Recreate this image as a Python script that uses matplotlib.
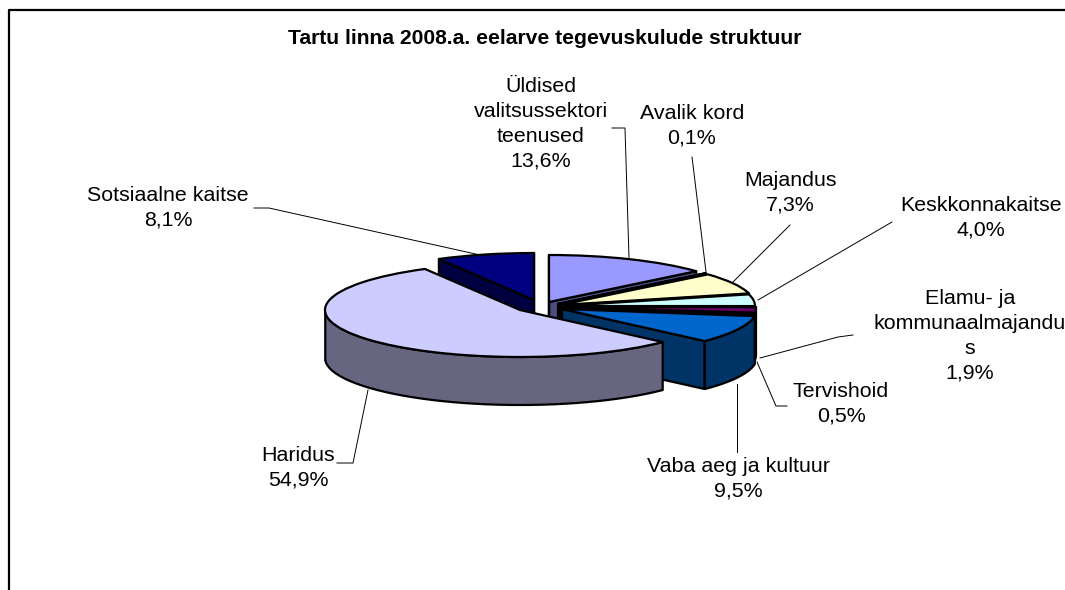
import numpy as np
import matplotlib
matplotlib.use("Agg")
import matplotlib.pyplot as plt

plt.rcParams["font.family"] = ["Liberation Sans", "DejaVu Sans"]

# Data
names = ["Üldised\nvalitsussektori\nteenused", "Avalik kord", "Majandus", "Keskkonnakaitse",
         "Elamu- ja\nkommunaalmajandu\ns", "Tervishoid", "Vaba aeg ja kultuur", "Haridus", "Sotsiaalne kaitse"]
shares = [13.6, 0.1, 7.3, 4.0, 1.9, 0.5, 9.5, 54.9, 8.1]
colors = ["#9999FF", "#993366", "#FFFFCC", "#CCFFFF", "#660066", "#FF8080", "#0066CC", "#CCCCFF", "#000080"]
title = "Tartu linna 2008.a. eelarve tegevuskulude struktuur"

# layout in reference pixels
W, H = 1065, 590
RX, RY, DEPTH = 195, 47, 48
slice_centers = [(549, 302), (558, 304), (560, 305), (560, 306), (561, 307), (561, 308), (562, 309), (520, 310), (534, 300)]
label_pos = [(541, 86), (692, 113), (790, 180), (981, 205), (970, 298), (841, 391), (738, 466), (298, 455), (168, 195)]
leaders = [
    [(612, 128), (625, 128), (629, 258)],
    [(692, 157), (693, 165), (706, 272)],
    [(790, 225), (733, 282)],
    [(892, 222), (758, 300)],
    [(853, 335), (838, 337), (760, 358)],
    [(787, 406), (776, 406), (757, 362)],
    [(737, 452), (737, 384)],
    [(337, 463), (353, 463), (368, 390)],
    [(254, 208), (269, 208), (480, 255)],
]
draw_order = [8, 0, 1, 2, 3, 4, 5, 6, 7]


def px(x, y):
    # reference pixel -> pie data units
    return x / RX, (H - y) / RY


def darker(c):
    rgb = matplotlib.colors.to_rgb(c)
    return tuple(v / 2 for v in rgb)


fig = plt.figure(figsize=(W / 100, H / 100), dpi=100)
ax = fig.add_axes([0, 0, 1, 1])
wedges, _ = ax.pie(shares, startangle=90, counterclock=False, colors=colors, radius=1)
ax.set_aspect("auto")
ax.set_xlim(0, W / RX)
ax.set_ylim(0, H / RY)
ax.axis("off")

dz = DEPTH / RY
edge = dict(edgecolor="black", linewidth=1.6, joinstyle="round")
for z, i in enumerate(draw_order):
    w = wedges[i]
    cx, cy = px(*slice_centers[i])
    w.set_center((cx, cy))
    w.set(zorder=3 + 3 * z + 2, **edge)
    t = np.radians(np.linspace(w.theta1, w.theta2, 60))
    fc = darker(colors[i])
    # cut faces, only the ones turned to the viewer
    for a, seen in ((t[0], np.cos(t[0]) > 0), (t[-1], np.cos(t[-1]) < 0)):
        if seen:
            ex, ey = cx + np.cos(a), cy + np.sin(a)
            ax.fill([cx, ex, ex, cx], [cy, ey, ey - dz, cy - dz], facecolor=fc, zorder=3 + 3 * z, **edge)
    # outer wall, only the part facing the viewer
    front = t[np.sin(t) <= 0]
    if len(front) > 1:
        xs = cx + np.cos(front)
        ys = cy + np.sin(front)
        ax.fill(np.r_[xs, xs[::-1]], np.r_[ys, ys[::-1] - dz], facecolor=fc, zorder=3 + 3 * z + 1, **edge)

# overlay for text and leader lines, in pixels
ov = fig.add_axes([0, 0, 1, 1], facecolor="none")
ov.set_xlim(0, W)
ov.set_ylim(H, 0)
ov.axis("off")

# chart frame
ov.plot([9, 9, W + 5], [H + 5, 10, 10], color="black", lw=1.6, clip_on=False)
ov.text(545, 38, title, ha="center", va="center", fontsize=15.2, fontweight="bold")

for name, share, (x, y), pts in zip(names, shares, label_pos, leaders):
    txt = name + "\n" + f"{share:.1f}%".replace(".", ",")
    ov.text(x, y - 9, txt, ha="center", va="top", fontsize=15.4, linespacing=1.39, clip_on=False)
    ov.plot(*zip(*pts), color="black", lw=0.7, zorder=1)

fig.savefig("out.png", dpi=100, facecolor="white")
